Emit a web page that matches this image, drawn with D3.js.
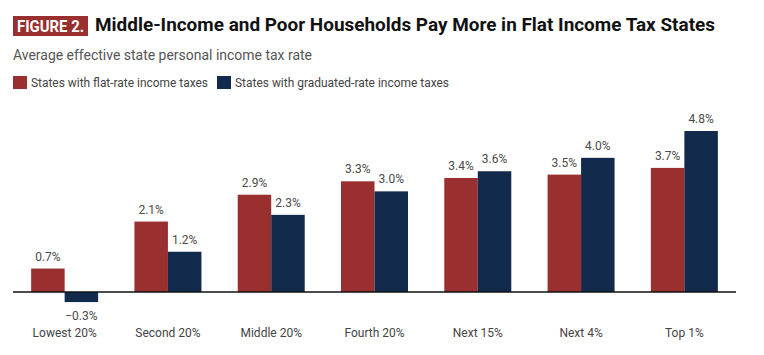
<!DOCTYPE html>
<html><head><meta charset="utf-8">
<script src="https://cdn.jsdelivr.net/npm/d3@7"></script>
<style>body{margin:0;background:#fff}svg{display:block;font-family:Roboto,sans-serif}</style>
</head><body><svg id="c" width="764" height="355"></svg>
<script>
const categories = ["Lowest 20%","Second 20%","Middle 20%","Fourth 20%","Next 15%","Next 4%","Top 1%"];
const flatRate = [0.7,2.1,2.9,3.3,3.4,3.5,3.7];
const graduatedRate = [-0.3,1.2,2.3,3.0,3.6,4.0,4.8];
const seriesNames = ["States with flat-rate income taxes","States with graduated-rate income taxes"];
const colors = ["#9a2f2f","#122a4c"];

const svg = d3.select("#c");
const x = d3.scaleBand().domain(categories).range([13,736]).padding(0);
const sub = d3.scaleBand().domain([0,1]).range([0,67]);
const y = d3.scaleLinear().domain([0,4.8]).range([292,131]);

// header
svg.append("rect").attr("x",13).attr("y",16).attr("width",75).attr("height",20).attr("fill","#9a2f2f");
svg.append("text").attr("x",17).attr("y",31.5).attr("fill","#fff").attr("font-weight",700)
  .attr("font-size",16).attr("textLength",67).attr("lengthAdjust","spacingAndGlyphs").text("FIGURE 2.");
svg.append("text").attr("x",95).attr("y",31).attr("fill","#111").attr("font-weight",700)
  .attr("font-size",19).attr("textLength",620).attr("lengthAdjust","spacingAndGlyphs")
  .text("Middle-Income and Poor Households Pay More in Flat Income Tax States");
svg.append("text").attr("x",13).attr("y",60).attr("fill","#555").attr("font-size",14)
  .attr("textLength",299).attr("lengthAdjust","spacingAndGlyphs")
  .text("Average effective state personal income tax rate");

// legend
const legX = [13,217];
const legW = [177,214];
seriesNames.forEach((n,i)=>{
  svg.append("rect").attr("x",legX[i]).attr("y",76).attr("width",14).attr("height",13).attr("fill",colors[i]);
  svg.append("text").attr("x",legX[i]+18).attr("y",87).attr("fill","#444").attr("font-size",12.5)
    .attr("textLength",legW[i]).attr("lengthAdjust","spacingAndGlyphs").text(n);
});

const data = [flatRate, graduatedRate];
const g = svg.append("g");
data.forEach((vals,s)=>{
  categories.forEach((c,i)=>{
    const v = vals[i];
    const bx = x(c) + x.bandwidth()/2 - 33.5 + sub(s);
    g.append("rect").attr("x",bx).attr("width",sub.bandwidth())
      .attr("y",y(Math.max(0,v))).attr("height",Math.abs(y(v)-y(0))).attr("fill",colors[s]);
    g.append("text").attr("x",bx+sub.bandwidth()/2).attr("text-anchor","middle")
      .attr("y", v>=0 ? y(v)-8 : y(v)+18).attr("fill","#4a4a4a").attr("font-size",12)
      .text((v<0?"\u2212":"")+Math.abs(v).toFixed(1)+"%");
  });
});

// baseline axis
svg.append("line").attr("x1",13).attr("x2",736).attr("y1",y(0)).attr("y2",y(0)).attr("stroke","#111").attr("stroke-width",1.3);

// category axis
const ax = svg.append("g").attr("transform","translate(0,328)")
  .call(d3.axisBottom(x).tickSize(0).tickPadding(0));
ax.select(".domain").remove();
ax.selectAll("text").attr("font-family","Roboto,sans-serif").attr("font-size",12).attr("fill","#444").attr("dy","0.71em");
</script></body></html>
